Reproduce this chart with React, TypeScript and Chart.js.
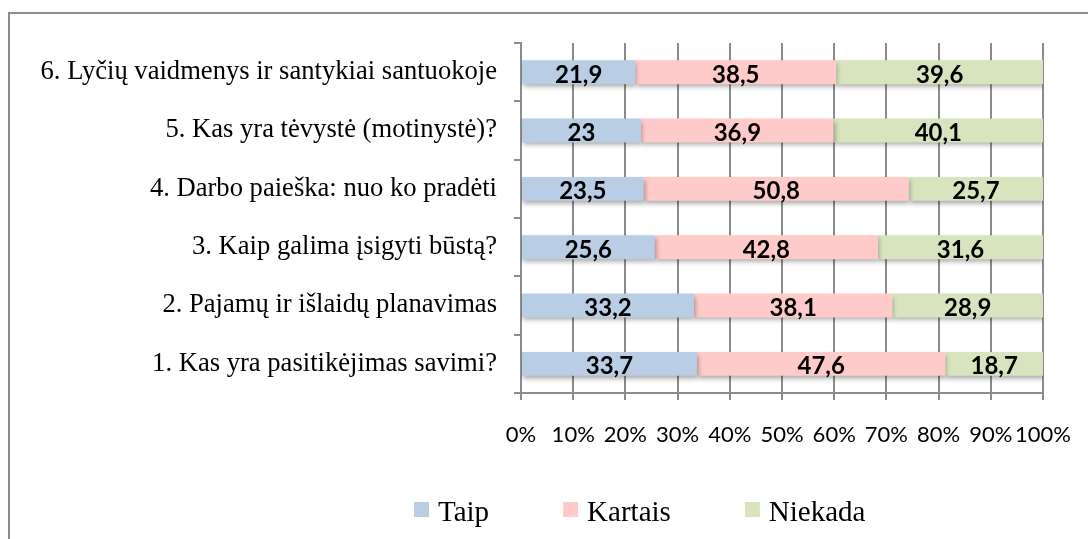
import React, { useEffect, useRef } from "react";
import { Chart, registerables } from "chart.js";

Chart.register(...registerables);

const categories = [
  "6. Lyčių vaidmenys ir santykiai santuokoje",
  "5. Kas yra tėvystė (motinystė)?",
  "4. Darbo paieška: nuo ko pradėti",
  "3. Kaip galima įsigyti būstą?",
  "2. Pajamų ir išlaidų planavimas",
  "1. Kas yra pasitikėjimas savimi?",
];
const taip = [21.9, 23, 23.5, 25.6, 33.2, 33.7];
const kartais = [38.5, 36.9, 50.8, 42.8, 38.1, 47.6];
const niekada = [39.6, 40.1, 25.7, 31.6, 28.9, 18.7];
const seriesNames = ["Taip", "Kartais", "Niekada"];
const seriesColors = ["#b9cde5", "#ffcaca", "#d7e4bd"];
const xTicks = [0, 10, 20, 30, 40, 50, 60, 70, 80, 90, 100];

const GRID = "#8c8c8c";

function zeroPadding(scale: any) {
  scale.paddingTop = 0;
  scale.paddingBottom = 0;
  scale.paddingLeft = 0;
  scale.paddingRight = 0;
}

export default function App() {
  const ref = useRef<HTMLCanvasElement | null>(null);

  useEffect(() => {
    if (!ref.current) return;
    const raw = [taip, kartais, niekada];
    const totals = categories.map((_, i) => taip[i] + kartais[i] + niekada[i]);
    const datasets = raw.map((vals, s) => ({
      label: seriesNames[s],
      data: vals.map((v, i) => (v / totals[i]) * 100),
      rawValues: vals,
      backgroundColor: seriesColors[s],
      borderWidth: 0,
      barPercentage: 0.41,
      categoryPercentage: 1,
    }));

    const shadowPlugin = {
      id: "barShadow",
      beforeDatasetDraw(chart: any) {
        const ctx = chart.ctx;
        ctx.save();
        ctx.shadowColor = "rgba(0,0,0,0.35)";
        ctx.shadowBlur = 5;
        ctx.shadowOffsetX = 1;
        ctx.shadowOffsetY = 3;
      },
      afterDatasetDraw(chart: any) {
        chart.ctx.restore();
      },
    };

    const labelPlugin = {
      id: "valueLabels",
      afterDatasetsDraw(chart: any) {
        const ctx = chart.ctx;
        ctx.save();
        ctx.font = "bold 24px Lato";
        ctx.fillStyle = "#000";
        ctx.textAlign = "center";
        ctx.textBaseline = "alphabetic";
        chart.data.datasets.forEach((ds: any, di: number) => {
          const meta = chart.getDatasetMeta(di);
          meta.data.forEach((bar: any, i: number) => {
            const txt = String(ds.rawValues[i]).replace(".", ",");
            const cx = (bar.x + bar.base) / 2;
            ctx.fillText(txt, cx, bar.y + 10.5);
          });
        });
        ctx.restore();
      },
    };

    const legendPlugin = {
      id: "customLegend",
      afterDraw(chart: any) {
        const ctx = chart.ctx;
        ctx.save();
        ctx.font = "29px 'Liberation Serif'";
        ctx.textBaseline = "alphabetic";
        ctx.textAlign = "left";
        let x = 404;
        chart.data.datasets.forEach((ds: any) => {
          ctx.fillStyle = ds.backgroundColor;
          ctx.fillRect(x, 488, 15, 15);
          ctx.fillStyle = "#000";
          ctx.fillText(ds.label, x + 24, 506.5);
          x += 24 + ctx.measureText(ds.label).width + 74;
        });
        ctx.restore();
      },
    };

    const chart = new Chart(ref.current, {
      type: "bar",
      data: { labels: categories, datasets: datasets as any },
      options: {
        indexAxis: "y",
        animation: false,
        responsive: true,
        maintainAspectRatio: false,
        layout: { padding: { top: 29, right: 45, left: 0, bottom: 0 } },
        plugins: {
          legend: { display: false },
          tooltip: { enabled: false },
        },
        scales: {
          x: {
            stacked: true,
            min: 0,
            max: 100,
            afterFit(scale: any) {
              scale.height = 146;
              zeroPadding(scale);
            },
            afterBuildTicks(scale: any) {
              scale.ticks = xTicks.map((v) => ({ value: v }));
            },
            ticks: {
              color: "#000",
              font: { family: "Lato", size: 22 },
              padding: 22,
              maxRotation: 0,
              autoSkip: false,
              callback: (v: any) => v + "%",
            },
            grid: { color: GRID, lineWidth: 2, tickLength: 7, drawTicks: true },
            border: { display: true, color: GRID, width: 2 },
          },
          y: {
            stacked: true,
            afterFit(scale: any) {
              scale.width = 511;
              zeroPadding(scale);
            },
            ticks: {
              color: "#000",
              font: { family: "'Liberation Serif'", size: 26.6 },
              padding: 17,
              autoSkip: false,
            },
            grid: {
              color: GRID,
              lineWidth: 2,
              drawOnChartArea: false,
              drawTicks: true,
              tickLength: 7,
              offset: true,
            },
            border: { display: true, color: GRID, width: 2 },
          },
        },
      },
      plugins: [shadowPlugin, labelPlugin, legendPlugin],
    });
    return () => chart.destroy();
  }, []);

  return (
    <div
      style={{
        position: "absolute",
        left: 8,
        top: 12,
        width: 1080,
        height: 527,
        boxSizing: "border-box",
        borderTop: "2px solid #8c8c8c",
        borderLeft: "2px solid #8c8c8c",
        background: "#fff",
      }}
    >
      <div style={{ position: "absolute", left: 0, top: 0, width: 1078, height: 525 }}>
        <canvas ref={ref} />
      </div>
    </div>
  );
}
